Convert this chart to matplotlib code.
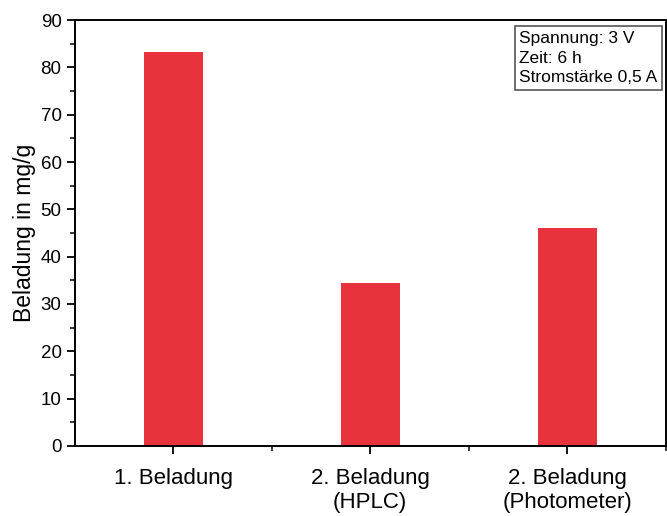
import matplotlib.pyplot as plt
from matplotlib.ticker import MultipleLocator, FixedLocator

plt.rcParams['font.family'] = ['Liberation Sans', 'DejaVu Sans']

kategorien = ["1. Beladung", "2. Beladung\n(HPLC)", "2. Beladung\n(Photometer)"]
beladung = [83.3, 34.4, 46.1]
info_text = "Spannung: 3 V\nZeit: 6 h\nStromstärke 0,5 A"

fig = plt.figure(figsize=(6.67, 5.16), dpi=100)
ax = fig.add_axes([0.112, 0.136, 0.886, 0.825])

pos = [1, 2, 3]
ax.bar(pos, beladung, width=0.3, color='#e8323c')

ax.set_xlim(0.5, 3.5)
ax.set_ylim(0, 90)
ax.set_xticks(pos)
ax.set_xticklabels(kategorien, fontsize=16)
ax.xaxis.set_minor_locator(FixedLocator([1.5, 2.5, 3.5]))
ax.yaxis.set_major_locator(MultipleLocator(10))
ax.yaxis.set_minor_locator(MultipleLocator(5))
ax.tick_params(axis='y', labelsize=13.5)
ax.tick_params(which='major', direction='out', length=6, width=1.3)
ax.tick_params(which='minor', direction='out', length=3.5, width=1.1)
ax.tick_params(axis='x', which='major', pad=10)
ax.set_ylabel("Beladung in mg/g", fontsize=16.5, labelpad=3)

for s in ax.spines.values():
    s.set_linewidth(1.4)

ax.text(0.752, 0.975, info_text, transform=ax.transAxes, fontsize=12.5,
        va='top', ha='left', linespacing=1.4,
        bbox=dict(boxstyle='square,pad=0.25', facecolor='white', edgecolor='#555555', linewidth=1.2))

fig.savefig("out.png", dpi=100)
